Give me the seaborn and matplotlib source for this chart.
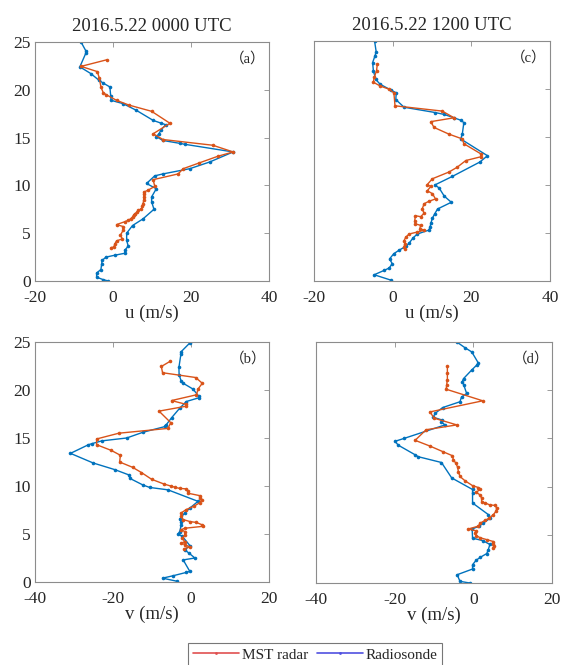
import matplotlib
matplotlib.use("Agg")
import matplotlib.pyplot as plt
import seaborn as sns
import pandas as pd
from matplotlib.lines import Line2D

# ---------------- data ----------------
titles = ["2016.5.22 0000 UTC", "2016.5.22 1200 UTC"]
panel_labels = ["（a）", "（c）", "（b）", "（d）"]
series_names = ["MST radar", "Radiosonde"]

# (a) u, 0000 UTC
z_a_rs = [25.0, 24.1, 23.8, 22.4, 21.7, 21.0, 20.7, 20.3, 19.4, 18.9, 18.55, 17.85, 16.8, 16.5, 16.35, 15.8,
          15.4, 15.1, 14.7, 14.4, 14.3, 13.5, 12.45, 11.75, 11.2, 11.0, 10.2, 9.65, 8.8, 8.3, 7.5, 6.5, 5.8,
          5.0, 4.25, 3.65, 3.2, 2.9, 2.7, 2.5, 2.15, 1.8, 1.2, 0.84, 0.4, 0.14, 0.0]
u_a_rs = [-8.2, -7.0, -7.0, -8.5, -5.7, -3.6, -2.5, -0.8, -0.6, -0.5, 2.6, 6.0, 10.3, 12.4, 13.5, 12.3, 11.8,
          11.1, 12.8, 17.1, 18.4, 30.8, 24.8, 19.7, 12.8, 10.7, 8.6, 11.1, 9.9, 9.9, 10.5, 7.7, 5.0, 3.5, 3.5,
          3.9, 3.0, 3.0, 0.5, -1.8, -2.8, -2.9, -3.1, -4.2, -4.2, -2.5, -1.2]
z_a_mst = [23.15, 22.45, 21.9, 21.2, 20.3, 19.7, 19.5, 18.9, 18.4, 17.75, 16.5, 15.4, 14.8, 14.2, 13.5, 13.05,
           12.35, 11.75, 11.2, 10.6, 9.9, 9.5, 9.3, 9.1, 8.8, 8.5, 8.1, 7.8, 7.55, 7.4, 7.2, 7.05, 6.9, 6.7,
           6.5, 6.35, 6.2, 5.9, 5.7, 5.3, 4.8, 4.4, 4.2, 3.9, 3.55, 3.5]
u_a_mst = [-1.5, -8.2, -4.0, -3.5, -3.1, -2.5, -1.8, 0.9, 4.1, 9.9, 14.6, 10.3, 12.8, 25.6, 30.8, 26.9, 22.1,
           18.0, 16.7, 10.3, 10.7, 9.0, 7.9, 8.0, 7.9, 7.9, 7.7, 7.5, 7.3, 6.5, 6.2, 5.6, 5.3, 5.0, 4.5, 3.9,
           3.0, 0.9, 2.6, 2.6, 1.9, 2.4, 0.9, 0.5, 0.2, -0.5]

# (c) u, 1200 UTC
z_c_rs = [25.0, 23.9, 23.45, 22.75, 21.9, 21.0, 20.5, 19.9, 19.6, 18.9, 18.1, 17.55, 17.35, 17.0, 16.75, 16.5,
          15.3, 14.8, 13.05, 12.4, 10.9, 10.0, 9.7, 8.85, 8.2, 7.5, 7.0, 6.55, 6.0, 5.6, 5.3, 4.9, 4.5, 3.95,
          3.6, 3.2, 2.85, 2.3, 1.8, 1.35, 1.1, 0.65, 0.07]
u_c_rs = [-4.6, -4.2, -4.5, -5.1, -4.9, -4.3, -3.2, -0.5, 0.9, 0.8, 2.9, 10.8, 13.1, 15.6, 17.3, 18.1, 17.7,
          17.3, 24.1, 22.2, 15.2, 10.7, 11.8, 13.1, 14.9, 11.4, 10.7, 10.1, 9.7, 9.5, 9.2, 6.3, 5.2, 4.2, 3.3,
          1.6, 0.3, -0.8, -0.1, -0.9, -2.2, -4.7, -0.3]
z_c_mst = [22.6, 21.9, 21.2, 20.7, 20.3, 19.98, 19.6, 18.25, 17.7, 17.0, 16.6, 16.0, 15.3, 14.8, 14.3, 13.25,
           12.95, 12.55, 11.85, 11.35, 10.65, 10.05, 9.85, 9.4, 9.1, 8.55, 8.3, 8.05, 7.5, 7.05, 6.7, 6.8,
           6.3, 5.95, 5.8, 5.45, 5.3, 5.1, 4.9, 4.55, 4.2, 3.9, 3.55, 3.35]
u_c_mst = [-3.9, -4.1, -4.7, -4.9, -3.1, -0.9, 0.3, 0.6, 12.6, 15.6, 9.7, 10.5, 14.3, 17.7, 18.1, 22.4, 22.5,
           18.6, 16.4, 14.3, 10.1, 8.8, 9.7, 8.8, 10.1, 10.9, 9.2, 8.0, 7.5, 8.0, 7.1, 5.8, 5.6, 5.8, 7.1, 6.9,
           8.0, 6.3, 4.2, 3.3, 2.9, 3.1, 2.9, 3.1]

# (b) v, 0000 UTC
z_b_rs = [24.9, 24.0, 23.7, 22.35, 21.6, 20.9, 20.7, 20.1, 19.35, 19.2, 18.8, 18.1, 17.1, 16.4, 16.2, 15.6,
          15.0, 14.7, 14.4, 14.3, 13.4, 12.4, 11.7, 11.15, 10.8, 10.1, 9.85, 9.6, 8.4, 7.7, 7.2, 6.55, 6.3,
          5.95, 5.25, 5.0, 4.75, 3.8, 3.35, 3.0, 2.5, 2.3, 1.1, 1.0, 0.65, 0.4, 0.07]
v_b_rs = [-0.3, -2.5, -2.6, -3.1, -3.05, -2.5, -2.0, 0.5, 2.0, 2.1, -1.2, -2.9, -5.0, -6.3, -6.6, -12.3,
          -16.5, -22.9, -25.5, -26.3, -30.9, -25.1, -19.5, -15.9, -15.7, -12.3, -10.6, -5.9, 1.8, -0.3, -1.6,
          -2.9, -2.5, -2.5, -2.9, -3.3, -2.2, -0.3, -1.6, -0.5, 1.0, -2.0, -0.3, -1.2, -4.6, -7.3, -3.5]
z_b_mst = [23.0, 22.45, 21.8, 21.3, 20.7, 20.1, 19.5, 18.9, 18.5, 18.3, 17.8, 16.6, 16.0, 15.5, 14.9, 14.3,
           13.7, 13.2, 12.5, 11.95, 11.4, 10.7, 10.2, 10.0, 9.85, 9.75, 9.7, 9.5, 9.25, 9.0, 8.75, 8.5, 8.25,
           7.9, 7.55, 7.2, 6.85, 6.5, 6.3, 6.2, 5.95, 5.8, 5.6, 5.45, 5.25, 4.9, 4.55, 4.2, 4.05, 3.9, 3.65, 3.45]
v_b_mst = [-5.3, -7.6, -7.3, 1.2, 2.9, 1.8, 1.4, -5.0, -1.2, -1.4, -8.2, -5.2, -5.9, -18.5, -24.2, -24.2,
           -20.4, -18.1, -18.3, -15.0, -12.7, -10.1, -6.9, -5.2, -4.0, -2.9, -1.2, -0.8, -0.8, 2.2, 2.2, 2.7,
           2.2, 0.8, -1.2, -2.5, -2.5, -2.0, -0.3, 1.4, 2.9, 3.1, -1.6, -2.5, -1.6, -1.6, -2.2, -1.6, -2.5,
           -1.6, -0.3, -1.8]

# (d) v, 1200 UTC
z_d_rs = [25.0, 24.4, 23.97, 22.8, 22.6, 22.1, 21.2, 20.9, 20.5, 19.66, 19.3, 18.8, 18.2, 17.6, 17.2, 16.9,
          16.7, 16.4, 15.0, 14.7, 14.3, 13.3, 13.1, 12.5, 10.9, 9.7, 9.3, 8.3, 7.1, 6.7, 6.2, 5.9, 5.6, 4.65,
          4.4, 4.0, 3.45, 3.05, 2.65, 2.35, 1.9, 1.45, 0.86, 0.17, 0.0]
v_d_rs = [-4.2, -2.1, -0.4, 1.3, 0.85, -0.4, -2.5, -2.8, -2.4, -1.7, -3.0, -3.4, -7.8, -9.7, -10.2, -7.9,
          -8.1, -7.2, -17.6, -19.9, -19.1, -14.8, -14.0, -8.1, -5.5, -0.2, -0.2, -0.2, 3.8, 4.2, 2.5, 1.5,
          -0.3, -0.2, 2.4, 4.2, 3.8, 3.4, 1.7, 0.7, -0.2, -0.2, -4.1, -3.4, -0.9]
z_d_mst = [22.5, 21.8, 21.1, 20.5, 20.1, 18.9, 17.75, 17.1, 16.4, 15.9, 14.8, 14.2, 13.6, 13.2, 12.8, 12.4,
           12.0, 11.55, 11.05, 10.6, 10.1, 9.9, 9.7, 9.4, 9.15, 8.8, 8.45, 8.3, 8.1, 8.05, 7.8, 7.45, 7.1,
           6.75, 6.5, 6.2, 5.9, 5.6, 5.4, 5.15, 4.9, 4.7, 4.5, 4.3, 4.05, 3.8, 3.6]
v_d_mst = [-6.6, -6.6, -6.6, -6.8, -6.9, 2.4, -11.0, -10.0, -4.2, -12.0, -14.8, -11.0, -7.6, -5.3, -5.1,
           -4.4, -4.0, -3.8, -3.4, -2.1, -0.2, 1.3, 1.7, 0.7, 1.7, 2.1, 2.1, 3.0, 4.2, 5.5, 5.9, 5.8, 5.1, 4.1,
           3.0, 1.7, 1.3, -1.3, 0.8, 0.4, 0.8, 1.7, 3.4, 5.1, 5.1, 5.3, 4.9]

x_ticks_u = [-20, 0, 20, 40]
x_ticks_v = [-40, -20, 0, 20]
y_ticks = [0, 5, 10, 15, 20, 25]

# ---------------- style ----------------
sns.set_style("white")
plt.rcParams["font.family"] = ["Liberation Serif", "Noto Sans CJK SC", "DejaVu Sans"]
plt.rcParams["axes.unicode_minus"] = False

C_MST = "#D95319"
C_RS = "#0072BD"
FRAME = "#8c8c8c"

fig = plt.figure(figsize=(5.61, 6.65), dpi=100)

W, H = 561, 665
def box(l, t, r, b):
    return [l / W, 1 - b / H, (r - l) / W, (b - t) / H]

panels = [
    dict(rect=box(35, 42, 269, 281), rs=(u_a_rs, z_a_rs), mst=(u_a_mst, z_a_mst), xt=x_ticks_u,
         xl="u (m/s)", ylab=True, title=titles[0], lab=panel_labels[0]),
    dict(rect=box(314, 41, 550, 281), rs=(u_c_rs, z_c_rs), mst=(u_c_mst, z_c_mst), xt=x_ticks_u,
         xl="u (m/s)", ylab=False, title=titles[1], lab=panel_labels[1]),
    dict(rect=box(35, 342, 269, 582), rs=(v_b_rs, z_b_rs), mst=(v_b_mst, z_b_mst), xt=x_ticks_v,
         xl="v (m/s)", ylab=True, title=None, lab=panel_labels[2]),
    dict(rect=box(316, 342, 552, 583), rs=(v_d_rs, z_d_rs), mst=(v_d_mst, z_d_mst), xt=x_ticks_v,
         xl="v (m/s)", ylab=False, title=None, lab=panel_labels[3]),
]

for p in panels:
    ax = fig.add_axes(p["rect"])
    for (xs, zs), col, name in [(p["rs"], C_RS, series_names[1]), (p["mst"], C_MST, series_names[0])]:
        df = pd.DataFrame({"x": xs, "z": zs})
        sns.lineplot(data=df, x="x", y="z", sort=False, estimator=None, ax=ax, color=col,
                     linewidth=1.0, marker="o", markersize=2.6, markeredgewidth=0, legend=False)
    ax.set_xlim(p["xt"][0], p["xt"][-1])
    ax.set_ylim(0, 25)
    ax.set_xticks(p["xt"])
    ax.set_yticks(y_ticks)
    ax.tick_params(direction="in", top=True, right=True, length=3.5, width=0.6,
                   color=FRAME, labelsize=12.5)
    ax.tick_params(axis="x", pad=6.5)
    ax.tick_params(axis="y", pad=3)
    if not p["ylab"]:
        ax.set_yticklabels([])
    ax.set_xlabel(p["xl"], fontsize=13.5, labelpad=-1)
    ax.set_ylabel("")
    for s in ax.spines.values():
        s.set_color(FRAME)
        s.set_linewidth(0.8)
    if p["title"]:
        ax.set_title(p["title"], fontsize=13.5, pad=8)
    ax.text(0.91, 0.93, p["lab"], transform=ax.transAxes, ha="center", va="center", fontsize=10.5)

handles = [
    Line2D([], [], color="#e05050", linewidth=1.2, marker="o", markersize=2, markeredgewidth=0),
    Line2D([], [], color="#5050e0", linewidth=1.2, marker="o", markersize=2, markeredgewidth=0),
]
leg = fig.legend(handles, series_names, loc="lower center", bbox_to_anchor=(0.562, -0.002), ncol=2,
                 frameon=True, fancybox=False, fontsize=11, handlelength=3.0, handletextpad=0.2,
                 columnspacing=0.6, borderpad=0.3, borderaxespad=0.0)
leg.get_frame().set_edgecolor("#555555")
leg.get_frame().set_linewidth(0.8)

fig.savefig("out.png", dpi=100)
